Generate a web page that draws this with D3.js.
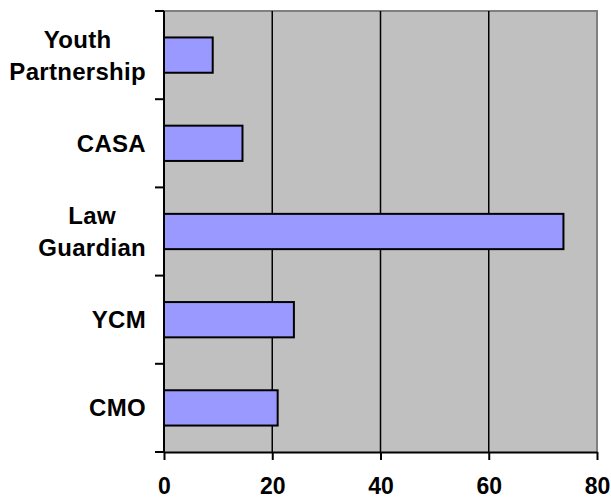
<!DOCTYPE html>
<html>
<head>
<meta charset="utf-8">
<script src="https://cdn.jsdelivr.net/npm/d3@7"></script>
<style>
  html, body { margin: 0; padding: 0; background: #ffffff; }
  svg { display: block; }
  text { font-family: "Liberation Sans", Arial, sans-serif; font-weight: bold; fill: #000; }
</style>
</head>
<body>
<svg id="chart" width="611" height="501"></svg>
<script>
// Programs, top to bottom
const categories = ["Youth Partnership", "CASA", "Law Guardian", "YCM", "CMO"];
const categoryLines = [["Youth", "Partnership"], ["CASA"], ["Law", "Guardian"], ["YCM"], ["CMO"]];
const values = [9, 14.5, 73.8, 24, 21];
const xTicks = [0, 20, 40, 60, 80];

const margin = { left: 164, top: 11, right: 14, bottom: 49 };
const W = 611, H = 501;
const svg = d3.select("#chart");

const x = d3.scaleLinear().domain([0, 80]).range([margin.left, W - margin.right]);
const y = d3.scaleBand().domain(categories).range([margin.top, H - margin.bottom]).paddingInner(0.6).paddingOuter(0.3);
const yEdge = d3.scaleBand().domain(categories).range([margin.top, H - margin.bottom]);

// Plot background
svg.append("rect")
  .attr("x", x(0)).attr("y", margin.top)
  .attr("width", x(80) - x(0)).attr("height", H - margin.bottom - margin.top)
  .attr("fill", "#c0c0c0");

// Top and right frame
svg.append("path")
  .attr("d", `M${x(0)},${margin.top}H${x(80)}V${H - margin.bottom}`)
  .attr("fill", "none").attr("stroke", "#808080").attr("stroke-width", 2);

// Vertical gridlines
svg.append("g").selectAll("line")
  .data(xTicks.filter(t => t > 0 && t < 80))
  .join("line")
  .attr("x1", d => x(d)).attr("x2", d => x(d))
  .attr("y1", margin.top).attr("y2", H - margin.bottom)
  .attr("stroke", "#000").attr("stroke-width", 1.5);

// Bars
svg.append("g").selectAll("rect")
  .data(categories)
  .join("rect")
  .attr("x", x(0))
  .attr("y", d => y(d))
  .attr("width", (d, i) => x(values[i]) - x(0))
  .attr("height", y.bandwidth())
  .attr("fill", "#9999ff")
  .attr("stroke", "#000").attr("stroke-width", 2);

// Bottom axis
const xAxis = svg.append("g")
  .attr("transform", `translate(0,${H - margin.bottom})`)
  .call(d3.axisBottom(x).tickValues(xTicks).tickSize(8).tickSizeOuter(0).tickPadding(20));
xAxis.select(".domain").attr("stroke", "#000").attr("stroke-width", 2);
xAxis.selectAll(".tick line").attr("stroke", "#000").attr("stroke-width", 2);
xAxis.selectAll(".tick text")
  .attr("font-size", 23).attr("font-family", "Liberation Sans, Arial, sans-serif")
  .attr("font-weight", "bold").attr("fill", "#000")
  .attr("dy", "0.62em");

// Left axis: line with ticks at category boundaries
const leftAxis = svg.append("g");
leftAxis.append("line")
  .attr("x1", x(0)).attr("x2", x(0))
  .attr("y1", margin.top).attr("y2", H - margin.bottom)
  .attr("stroke", "#000").attr("stroke-width", 2);
const edges = categories.map(c => yEdge(c)).concat([H - margin.bottom]);
leftAxis.selectAll("line.tick")
  .data(edges)
  .join("line").attr("class", "tick")
  .attr("x1", x(0) - 9).attr("x2", x(0))
  .attr("y1", d => d).attr("y2", d => d)
  .attr("stroke", "#000").attr("stroke-width", 2);

// Category labels, centred line-by-line, block right-aligned to the axis
const lineGap = 32;
const labelRight = 146;
categories.forEach((c, i) => {
  const lines = categoryLines[i];
  const cy = y(c) + y.bandwidth() / 2;
  const g = svg.append("g");
  const texts = lines.map((ln, j) =>
    g.append("text")
      .attr("font-size", 24)
      .attr("letter-spacing", 0.3)
      .attr("text-anchor", "middle")
      .attr("dominant-baseline", "central")
      .attr("y", cy + (j - (lines.length - 1) / 2) * lineGap)
      .text(ln));
  const maxW = d3.max(texts, t => t.node().getComputedTextLength());
  texts.forEach(t => t.attr("x", labelRight - maxW / 2));
});
</script>
</body>
</html>
